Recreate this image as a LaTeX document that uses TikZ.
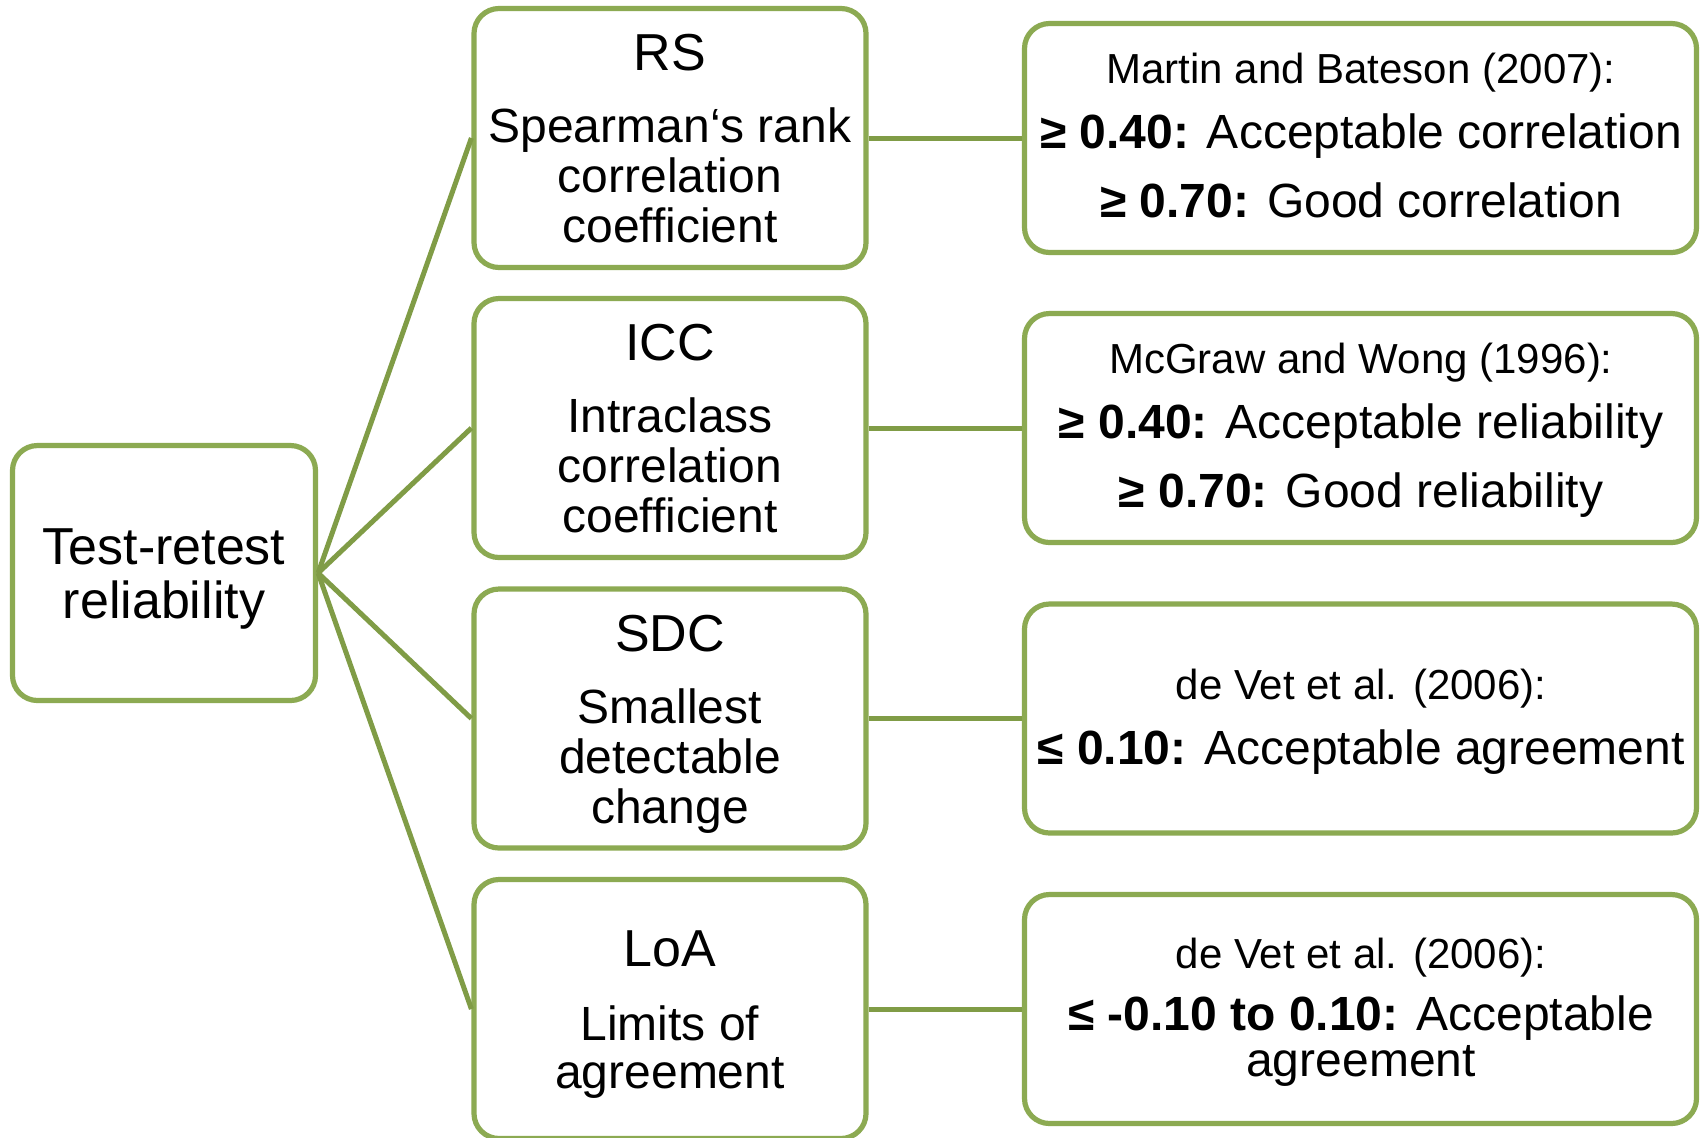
\documentclass[tikz,border=0pt]{standalone}
\usepackage{fontspec}
\setmainfont{Liberation Sans}
\definecolor{boxgreen}{RGB}{140,170,82}
\definecolor{linegreen}{RGB}{128,156,70}
\begin{document}
\begin{tikzpicture}[x=0.5pt,y=-0.5pt,
 box/.style={draw=boxgreen,line width=2.6pt,rounded corners=12.5pt,fill=white,inner sep=0pt},
 leftbox/.style={box,minimum width=151.5pt,minimum height=127.5pt},
 midbox/.style={box,minimum width=196pt,minimum height=129.5pt},
 rightbox/.style={box,minimum width=336pt,minimum height=114.5pt},
 conn/.style={draw=linegreen,line width=2.5pt},
 titletxt/.style={anchor=base,font=\fontsize{26}{30}\selectfont,inner sep=0pt},
 bodytxt/.style={anchor=base,font=\fontsize{24}{28}\selectfont,inner sep=0pt},
 reftxt/.style={anchor=base,font=\fontsize{21}{25}\selectfont,inner sep=0pt}]
\useasboundingbox[fill=white] (0,0) rectangle (1700,1137);

% boxes
\node[leftbox] (trr) at (164,573) {};
\node[midbox] (rs) at (670,138) {};
\node[midbox] (icc) at (670,428) {};
\node[midbox] (sdc) at (670,718.5) {};
\node[midbox] (loa) at (670,1009) {};
\node[rightbox] (rsr) at (1360.5,138) {};
\node[rightbox] (iccr) at (1360.5,428) {};
\node[rightbox] (sdcr) at (1360.5,718.5) {};
\node[rightbox] (loar) at (1360.5,1009) {};

% connectors
\draw[conn] (trr.east) -- (rs.west);
\draw[conn] (trr.east) -- (icc.west);
\draw[conn] (trr.east) -- (sdc.west);
\draw[conn] (trr.east) -- (loa.west);
\draw[conn] (rs.east) -- (rsr.west);
\draw[conn] (icc.east) -- (iccr.west);
\draw[conn] (sdc.east) -- (sdcr.west);
\draw[conn] (loa.east) -- (loar.west);

% left text
\node[titletxt] (t1) at (164,564) {Test-retest};
\node[titletxt] (t2) at (164,618) {reliability};

% middle texts
\node[titletxt] (rs0) at (670,70) {RS};
\node[bodytxt] (rs1) at (670,142) {Spearman‘s rank};
\node[bodytxt] (rs2) at (670,192) {correlation};
\node[bodytxt] (rs3) at (670,242) {coefficient};

\node[titletxt] (icc0) at (670,360) {ICC};
\node[bodytxt] (icc1) at (670,432) {Intraclass};
\node[bodytxt] (icc2) at (670,482) {correlation};
\node[bodytxt] (icc3) at (670,532) {coefficient};

\node[titletxt] (sdc0) at (670,651) {SDC};
\node[bodytxt] (sdc1) at (670,723) {Smallest};
\node[bodytxt] (sdc2) at (670,773) {detectable};
\node[bodytxt] (sdc3) at (670,823) {change};

\node[titletxt] (loa0) at (670,966) {LoA};
\node[bodytxt] (loa1) at (670,1040) {Limits of};
\node[bodytxt] (loa2) at (670,1088) {agreement};

% right texts
\node[reftxt] (rsr0) at (1361,83) {Martin and Bateson (2007):};
\node[bodytxt] (rsr1) at (1361,148) {\textbf{≥ 0.40:} Acceptable correlation};
\node[bodytxt] (rsr2) at (1361,217) {\textbf{≥ 0.70:} Good correlation};

\node[reftxt] (iccr0) at (1361,373) {McGraw and Wong (1996):};
\node[bodytxt] (iccr1) at (1361,438) {\textbf{≥ 0.40:} Acceptable reliability};
\node[bodytxt] (iccr2) at (1361,507) {\textbf{≥ 0.70:} Good reliability};

\node[reftxt] (sdcr0) at (1361,699) {de Vet et al. (2006):};
\node[bodytxt] (sdcr1) at (1361,764) {\textbf{≤ 0.10:} Acceptable agreement};

\node[reftxt] (loar0) at (1361,968) {de Vet et al. (2006):};
\node[bodytxt] (loar1) at (1361,1030) {\textbf{≤ -0.10 to 0.10:} Acceptable};
\node[bodytxt] (loar2) at (1361,1076) {agreement};
\end{tikzpicture}
\end{document}
